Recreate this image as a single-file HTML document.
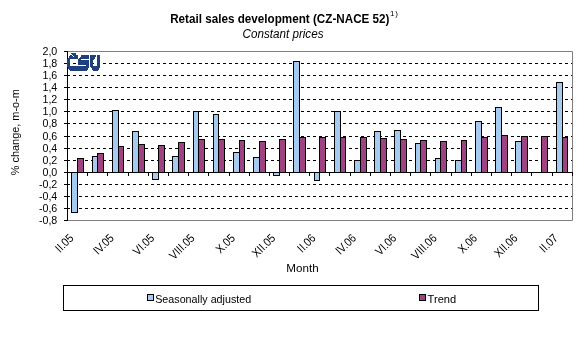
<!DOCTYPE html><html><head><meta charset="utf-8"><style>html,body{margin:0;padding:0;background:#fff;}svg{display:block;will-change:transform;font-family:"Liberation Sans",sans-serif;}</style></head><body>
<svg width="577" height="360" viewBox="0 0 577 360">
<rect width="577" height="360" fill="#fff"/>
<text x="170.2" y="23" font-size="12" font-weight="bold" textLength="219.3" lengthAdjust="spacingAndGlyphs">Retail sales development (CZ-NACE 52)</text>
<text x="390" y="16" font-size="8" letter-spacing="0.8">1)</text>
<text x="242.5" y="38" font-size="12" font-style="italic" textLength="81" lengthAdjust="spacingAndGlyphs">Constant prices</text>
<line x1="67" y1="63.5" x2="572" y2="63.5" stroke="#000" stroke-width="1" stroke-dasharray="3 3"/>
<line x1="67" y1="75.5" x2="572" y2="75.5" stroke="#000" stroke-width="1" stroke-dasharray="3 3"/>
<line x1="67" y1="87.5" x2="572" y2="87.5" stroke="#000" stroke-width="1" stroke-dasharray="3 3"/>
<line x1="67" y1="99.5" x2="572" y2="99.5" stroke="#000" stroke-width="1" stroke-dasharray="3 3"/>
<line x1="67" y1="111.5" x2="572" y2="111.5" stroke="#000" stroke-width="1" stroke-dasharray="3 3"/>
<line x1="67" y1="123.5" x2="572" y2="123.5" stroke="#000" stroke-width="1" stroke-dasharray="3 3"/>
<line x1="67" y1="136.5" x2="572" y2="136.5" stroke="#000" stroke-width="1" stroke-dasharray="3 3"/>
<line x1="67" y1="148.5" x2="572" y2="148.5" stroke="#000" stroke-width="1" stroke-dasharray="3 3"/>
<line x1="67" y1="160.5" x2="572" y2="160.5" stroke="#000" stroke-width="1" stroke-dasharray="3 3"/>
<line x1="67" y1="172.5" x2="572" y2="172.5" stroke="#000" stroke-width="1" stroke-dasharray="3 3"/>
<line x1="67" y1="184.5" x2="572" y2="184.5" stroke="#000" stroke-width="1" stroke-dasharray="3 3"/>
<line x1="67" y1="196.5" x2="572" y2="196.5" stroke="#000" stroke-width="1" stroke-dasharray="3 3"/>
<line x1="67" y1="208.5" x2="572" y2="208.5" stroke="#000" stroke-width="1" stroke-dasharray="3 3"/>
<path d="M67,51.5H572.5V220.5H67" fill="none" stroke="#808080" stroke-width="1"/>
<rect x="71.5" y="172.5" width="6" height="40" fill="#A6CAF0" stroke="#000"/>
<rect x="77.5" y="158.5" width="6" height="14" fill="#9E4282" stroke="#000"/>
<rect x="92.5" y="156.5" width="5" height="16" fill="#A6CAF0" stroke="#000"/>
<rect x="97.5" y="153.5" width="6" height="19" fill="#9E4282" stroke="#000"/>
<rect x="112.5" y="110.5" width="6" height="62" fill="#A6CAF0" stroke="#000"/>
<rect x="118.5" y="146.5" width="5" height="26" fill="#9E4282" stroke="#000"/>
<rect x="132.5" y="131.5" width="6" height="41" fill="#A6CAF0" stroke="#000"/>
<rect x="138.5" y="144.5" width="6" height="28" fill="#9E4282" stroke="#000"/>
<rect x="152.5" y="172.5" width="6" height="7" fill="#A6CAF0" stroke="#000"/>
<rect x="158.5" y="145.5" width="6" height="27" fill="#9E4282" stroke="#000"/>
<rect x="172.5" y="156.5" width="6" height="16" fill="#A6CAF0" stroke="#000"/>
<rect x="178.5" y="142.5" width="6" height="30" fill="#9E4282" stroke="#000"/>
<rect x="193.5" y="111.5" width="5" height="61" fill="#A6CAF0" stroke="#000"/>
<rect x="198.5" y="139.5" width="6" height="33" fill="#9E4282" stroke="#000"/>
<rect x="213.5" y="114.5" width="5" height="58" fill="#A6CAF0" stroke="#000"/>
<rect x="218.5" y="139.5" width="6" height="33" fill="#9E4282" stroke="#000"/>
<rect x="233.5" y="152.5" width="6" height="20" fill="#A6CAF0" stroke="#000"/>
<rect x="239.5" y="140.5" width="5" height="32" fill="#9E4282" stroke="#000"/>
<rect x="253.5" y="157.5" width="6" height="15" fill="#A6CAF0" stroke="#000"/>
<rect x="259.5" y="141.5" width="6" height="31" fill="#9E4282" stroke="#000"/>
<rect x="273.5" y="172.5" width="6" height="3" fill="#A6CAF0" stroke="#000"/>
<rect x="279.5" y="139.5" width="6" height="33" fill="#9E4282" stroke="#000"/>
<rect x="293.5" y="61.5" width="6" height="111" fill="#A6CAF0" stroke="#000"/>
<rect x="299.5" y="137.5" width="6" height="35" fill="#9E4282" stroke="#000"/>
<rect x="314.5" y="172.5" width="5" height="8" fill="#A6CAF0" stroke="#000"/>
<rect x="319.5" y="137.5" width="6" height="35" fill="#9E4282" stroke="#000"/>
<rect x="334.5" y="111.5" width="6" height="61" fill="#A6CAF0" stroke="#000"/>
<rect x="340.5" y="137.5" width="5" height="35" fill="#9E4282" stroke="#000"/>
<rect x="354.5" y="160.5" width="6" height="12" fill="#A6CAF0" stroke="#000"/>
<rect x="360.5" y="137.5" width="6" height="35" fill="#9E4282" stroke="#000"/>
<rect x="374.5" y="131.5" width="6" height="41" fill="#A6CAF0" stroke="#000"/>
<rect x="380.5" y="138.5" width="6" height="34" fill="#9E4282" stroke="#000"/>
<rect x="394.5" y="130.5" width="6" height="42" fill="#A6CAF0" stroke="#000"/>
<rect x="400.5" y="139.5" width="6" height="33" fill="#9E4282" stroke="#000"/>
<rect x="415.5" y="143.5" width="5" height="29" fill="#A6CAF0" stroke="#000"/>
<rect x="420.5" y="140.5" width="6" height="32" fill="#9E4282" stroke="#000"/>
<rect x="435.5" y="158.5" width="5" height="14" fill="#A6CAF0" stroke="#000"/>
<rect x="440.5" y="141.5" width="6" height="31" fill="#9E4282" stroke="#000"/>
<rect x="455.5" y="160.5" width="6" height="12" fill="#A6CAF0" stroke="#000"/>
<rect x="461.5" y="140.5" width="5" height="32" fill="#9E4282" stroke="#000"/>
<rect x="475.5" y="121.5" width="6" height="51" fill="#A6CAF0" stroke="#000"/>
<rect x="481.5" y="137.5" width="6" height="35" fill="#9E4282" stroke="#000"/>
<rect x="495.5" y="107.5" width="6" height="65" fill="#A6CAF0" stroke="#000"/>
<rect x="501.5" y="135.5" width="6" height="37" fill="#9E4282" stroke="#000"/>
<rect x="515.5" y="141.5" width="6" height="31" fill="#A6CAF0" stroke="#000"/>
<rect x="521.5" y="136.5" width="6" height="36" fill="#9E4282" stroke="#000"/>
<rect x="541.5" y="136.5" width="6" height="36" fill="#9E4282" stroke="#000"/>
<rect x="556.5" y="82.5" width="6" height="90" fill="#A6CAF0" stroke="#000"/>
<rect x="562.5" y="137.5" width="5" height="35" fill="#9E4282" stroke="#000"/>
<line x1="67.5" y1="51" x2="67.5" y2="221" stroke="#000"/>
<line x1="64" y1="51.5" x2="67" y2="51.5" stroke="#000"/>
<line x1="64" y1="63.5" x2="67" y2="63.5" stroke="#000"/>
<line x1="64" y1="75.5" x2="67" y2="75.5" stroke="#000"/>
<line x1="64" y1="87.5" x2="67" y2="87.5" stroke="#000"/>
<line x1="64" y1="99.5" x2="67" y2="99.5" stroke="#000"/>
<line x1="64" y1="111.5" x2="67" y2="111.5" stroke="#000"/>
<line x1="64" y1="123.5" x2="67" y2="123.5" stroke="#000"/>
<line x1="64" y1="136.5" x2="67" y2="136.5" stroke="#000"/>
<line x1="64" y1="148.5" x2="67" y2="148.5" stroke="#000"/>
<line x1="64" y1="160.5" x2="67" y2="160.5" stroke="#000"/>
<line x1="64" y1="172.5" x2="67" y2="172.5" stroke="#000"/>
<line x1="64" y1="184.5" x2="67" y2="184.5" stroke="#000"/>
<line x1="64" y1="196.5" x2="67" y2="196.5" stroke="#000"/>
<line x1="64" y1="208.5" x2="67" y2="208.5" stroke="#000"/>
<line x1="64" y1="220.5" x2="67" y2="220.5" stroke="#000"/>
<line x1="67" y1="172.5" x2="573" y2="172.5" stroke="#000"/>
<line x1="87.5" y1="173" x2="87.5" y2="176" stroke="#000"/>
<line x1="107.5" y1="173" x2="107.5" y2="176" stroke="#000"/>
<line x1="128.5" y1="173" x2="128.5" y2="176" stroke="#000"/>
<line x1="148.5" y1="173" x2="148.5" y2="176" stroke="#000"/>
<line x1="168.5" y1="173" x2="168.5" y2="176" stroke="#000"/>
<line x1="188.5" y1="173" x2="188.5" y2="176" stroke="#000"/>
<line x1="208.5" y1="173" x2="208.5" y2="176" stroke="#000"/>
<line x1="229.5" y1="173" x2="229.5" y2="176" stroke="#000"/>
<line x1="249.5" y1="173" x2="249.5" y2="176" stroke="#000"/>
<line x1="269.5" y1="173" x2="269.5" y2="176" stroke="#000"/>
<line x1="289.5" y1="173" x2="289.5" y2="176" stroke="#000"/>
<line x1="309.5" y1="173" x2="309.5" y2="176" stroke="#000"/>
<line x1="329.5" y1="173" x2="329.5" y2="176" stroke="#000"/>
<line x1="350.5" y1="173" x2="350.5" y2="176" stroke="#000"/>
<line x1="370.5" y1="173" x2="370.5" y2="176" stroke="#000"/>
<line x1="390.5" y1="173" x2="390.5" y2="176" stroke="#000"/>
<line x1="410.5" y1="173" x2="410.5" y2="176" stroke="#000"/>
<line x1="430.5" y1="173" x2="430.5" y2="176" stroke="#000"/>
<line x1="451.5" y1="173" x2="451.5" y2="176" stroke="#000"/>
<line x1="471.5" y1="173" x2="471.5" y2="176" stroke="#000"/>
<line x1="491.5" y1="173" x2="491.5" y2="176" stroke="#000"/>
<line x1="511.5" y1="173" x2="511.5" y2="176" stroke="#000"/>
<line x1="531.5" y1="173" x2="531.5" y2="176" stroke="#000"/>
<line x1="552.5" y1="173" x2="552.5" y2="176" stroke="#000"/>
<line x1="572.5" y1="173" x2="572.5" y2="176" stroke="#000"/>
<text x="57.3" y="55" font-size="10.67" text-anchor="end">2,0</text>
<text x="57.3" y="67" font-size="10.67" text-anchor="end">1,8</text>
<text x="57.3" y="79" font-size="10.67" text-anchor="end">1,6</text>
<text x="57.3" y="91" font-size="10.67" text-anchor="end">1,4</text>
<text x="57.3" y="103" font-size="10.67" text-anchor="end">1,2</text>
<text x="57.3" y="115" font-size="10.67" text-anchor="end">1,0</text>
<text x="57.3" y="127" font-size="10.67" text-anchor="end">0,8</text>
<text x="57.3" y="140" font-size="10.67" text-anchor="end">0,6</text>
<text x="57.3" y="152" font-size="10.67" text-anchor="end">0,4</text>
<text x="57.3" y="164" font-size="10.67" text-anchor="end">0,2</text>
<text x="57.3" y="176" font-size="10.67" text-anchor="end">0,0</text>
<text x="57.3" y="188" font-size="10.67" text-anchor="end">-0,2</text>
<text x="57.3" y="200" font-size="10.67" text-anchor="end">-0,4</text>
<text x="57.3" y="212" font-size="10.67" text-anchor="end">-0,6</text>
<text x="57.3" y="224" font-size="10.67" text-anchor="end">-0,8</text>
<text transform="translate(74.29,238.8) rotate(-45) scale(0.95,1.08)" font-size="11" text-anchor="end">II.05</text>
<text transform="translate(114.66,238.8) rotate(-45) scale(0.95,1.08)" font-size="11" text-anchor="end">IV.05</text>
<text transform="translate(155.02,238.8) rotate(-45) scale(0.95,1.08)" font-size="11" text-anchor="end">VI.05</text>
<text transform="translate(195.38,238.8) rotate(-45) scale(0.95,1.08)" font-size="11" text-anchor="end">VIII.05</text>
<text transform="translate(235.75,238.8) rotate(-45) scale(0.95,1.08)" font-size="11" text-anchor="end">X.05</text>
<text transform="translate(276.11,238.8) rotate(-45) scale(0.95,1.08)" font-size="11" text-anchor="end">XII.05</text>
<text transform="translate(316.47,238.8) rotate(-45) scale(0.95,1.08)" font-size="11" text-anchor="end">II.06</text>
<text transform="translate(356.84,238.8) rotate(-45) scale(0.95,1.08)" font-size="11" text-anchor="end">IV.06</text>
<text transform="translate(397.20,238.8) rotate(-45) scale(0.95,1.08)" font-size="11" text-anchor="end">VI.06</text>
<text transform="translate(437.57,238.8) rotate(-45) scale(0.95,1.08)" font-size="11" text-anchor="end">VIII.06</text>
<text transform="translate(477.93,238.8) rotate(-45) scale(0.95,1.08)" font-size="11" text-anchor="end">X.06</text>
<text transform="translate(518.30,238.8) rotate(-45) scale(0.95,1.08)" font-size="11" text-anchor="end">XII.06</text>
<text transform="translate(558.66,238.8) rotate(-45) scale(0.95,1.08)" font-size="11" text-anchor="end">II.07</text>
<text transform="translate(18.8,132.2) rotate(-90)" font-size="10.67" text-anchor="middle" textLength="86" lengthAdjust="spacingAndGlyphs">% change, m-o-m</text>
<text x="286.3" y="272" font-size="10.67" textLength="32.3" lengthAdjust="spacingAndGlyphs">Month</text>
<rect x="63.5" y="285.5" width="475" height="25" fill="#fff" stroke="#000"/>
<rect x="147.5" y="294.5" width="6" height="6" fill="#A6CAF0" stroke="#000"/>
<text x="155.2" y="303" font-size="10.67" textLength="96" lengthAdjust="spacingAndGlyphs">Seasonally adjusted</text>
<rect x="419.5" y="294.5" width="6" height="6" fill="#9E4282" stroke="#000"/>
<text x="427.6" y="303" font-size="10.67" textLength="28.6" lengthAdjust="spacingAndGlyphs">Trend</text>
<path d="M71,53h5v1h-5zM72,54h4v1h-4zM70,55h2v1h-2zM73,55h5v1h-5zM81,55h8v1h-8zM90,55h6v1h-6zM97,55h3v1h-3zM69,56h4v1h-4zM74,56h4v1h-4zM81,56h8v1h-8zM90,56h6v1h-6zM97,56h3v1h-3zM69,57h9v1h-9zM80,57h9v1h-9zM90,57h5v1h-5zM97,57h3v1h-3zM68,58h10v1h-10zM79,58h10v1h-10zM90,58h5v1h-5zM97,58h3v1h-3zM67,59h3v1h-3zM78,59h3v1h-3zM90,59h4v1h-4zM97,59h3v1h-3zM67,60h3v1h-3zM78,60h11v1h-11zM90,60h3v1h-3zM97,60h3v1h-3zM67,61h3v1h-3zM78,61h11v1h-11zM90,61h3v1h-3zM97,61h3v1h-3zM67,62h3v1h-3zM78,62h11v1h-11zM90,62h3v1h-3zM97,62h3v1h-3zM67,63h3v1h-3zM78,63h11v1h-11zM90,63h3v1h-3zM97,63h3v1h-3zM67,64h3v1h-3zM78,64h11v1h-11zM90,64h3v1h-3zM97,64h3v1h-3zM67,65h3v1h-3zM86,65h3v1h-3zM90,65h3v1h-3zM97,65h3v1h-3zM67,66h22v1h-22zM90,66h10v1h-10zM68,67h21v1h-21zM91,67h9v1h-9zM68,68h20v1h-20zM92,68h7v1h-7zM69,69h19v1h-19zM92,69h7v1h-7zM70,70h17v1h-17zM93,70h5v1h-5z" fill="#203F7D" shape-rendering="crispEdges"/>
</svg></body></html>
